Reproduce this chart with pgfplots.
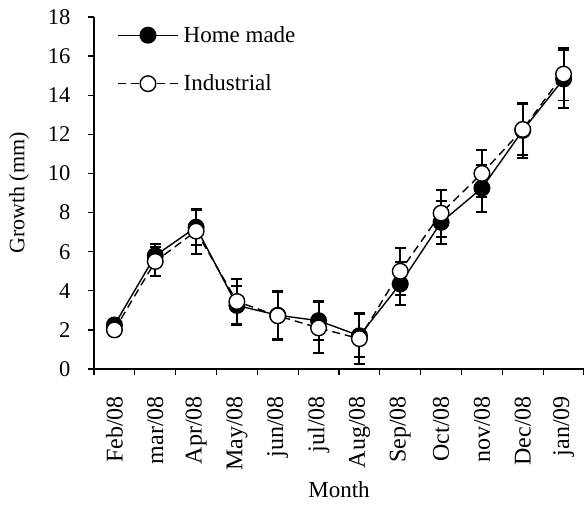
\documentclass[border=0pt]{standalone}
\usepackage{pgfplots}
\pgfplotsset{compat=1.18}
\usepackage{fontspec}
\setmainfont{Liberation Serif}
\begin{document}
\begin{tikzpicture}
\begin{axis}[name=ax,
  width=490pt, height=352pt, scale only axis,
  xmin=-0.5, xmax=11.5, ymin=0, ymax=18,
  axis lines*=left,
  axis line style={line width=1.3pt},
  tick align=outside, major tick length=6pt,
  tick style={line width=1.3pt, black},
  xtick={-0.5,0.5,...,11.5},
  x tick label as interval,
  xticklabels={Feb/08,mar/08,Apr/08,May/08,jun/08,jul/08,Aug/08,Sep/08,Oct/08,nov/08,Dec/08,jan/09},
  xticklabel style={rotate=90, anchor=east, inner xsep=21pt, font=\fontsize{24}{28}\selectfont},
  ytick={0,2,...,18},
  yticklabel style={font=\fontsize{22.5}{26}\selectfont},
  yticklabel shift=14pt,
  /pgf/number format/assume math mode=true,
  xlabel={Month}, ylabel={Growth (mm)},
  xlabel style={font=\fontsize{23}{27}\selectfont, yshift=14pt},
  ylabel style={font=\fontsize{22}{26}\selectfont, yshift=12pt},
  legend style={at={(0.041,0.985)}, anchor=north west, draw=none, fill=none,
    font=\fontsize{23}{27}\selectfont, row sep=27pt},
  legend cell align=left,
  legend image code/.code={\draw[mark repeat=2,mark phase=2] plot coordinates {(0pt,0pt)(30pt,0pt)(60pt,0pt)};\path (63pt,0pt);},
  clip=false,
]
\addplot[black, line width=1.4pt, mark=*, mark size=7.8pt,
  mark options={solid, fill=black},
  error bars/.cd, y dir=both, y explicit,
  error bar style={line width=1.9pt, solid},
  error mark options={rotate=90, mark size=5.5pt, line width=1.9pt}]
coordinates {
(0,2.25) +- (0,0.3)
(1,5.8) +- (0,0.6)
(2,7.25) +- (0,0.9)
(3,3.25) +- (0,1.0)
(4,2.75) +- (0,1.2)
(5,2.47) +- (0,1.0)
(6,1.7) +- (0,1.1)
(7,4.35) +- (0,1.1)
(8,7.5) +- (0,1.1)
(9,9.25) +- (0,1.2)
(10,12.2) +- (0,1.4)
(11,14.83) +- (0,1.5)
};
\addlegendentry{Home made}
\addplot[black, line width=1.4pt, dash pattern=on 8pt off 5pt, mark=*, mark size=7.8pt,
  mark options={solid, fill=white},
  error bars/.cd, y dir=both, y explicit,
  error bar style={line width=1.9pt, solid},
  error mark options={rotate=90, mark size=5.5pt, line width=1.9pt}]
coordinates {
(0,2.0) +- (0,0.3)
(1,5.5) +- (0,0.75)
(2,7.05) +- (0,1.15)
(3,3.45) +- (0,1.15)
(4,2.72) +- (0,1.25)
(5,2.1) +- (0,1.3)
(6,1.55) +- (0,1.3)
(7,5.0) +- (0,1.2)
(8,7.97) +- (0,1.2)
(9,10.0) +- (0,1.2)
(10,12.25) +- (0,1.3)
(11,15.08) +- (0,1.35)
};
\addlegendentry{Industrial}
\end{axis}
\pgfresetboundingbox
\path[use as bounding box] ([xshift=-94pt,yshift=-136pt]ax.south west) rectangle ([yshift=17pt]ax.north east);
\end{tikzpicture}
\end{document}
